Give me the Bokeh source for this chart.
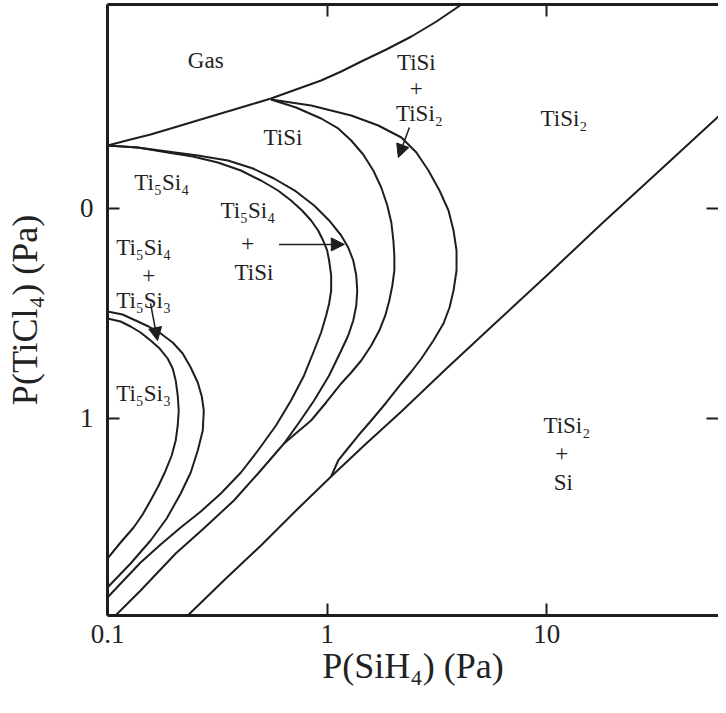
from bokeh.plotting import figure
from bokeh.models import (Range1d, LogAxis, LinearAxis, FixedTicker,
                          Arrow, NormalHead, ColumnDataSource)
from bokeh.core.properties import value
from bokeh.embed import file_html
from bokeh.resources import INLINE

# ---------------- data ----------------
x_ticks = [0.1, 1, 10]
x_tick_labels = ["0.1", "1", "10"]
y_ticks = [0, 1]

# phase boundaries: x = P(SiH4) (Pa), y = P(TiCl4) axis value
gas_x = [0.1, 0.1274, 0.1571, 0.1940, 0.2393, 0.2953, 0.3645, 0.4498, 0.5551, 0.7218,
         0.9389, 1.159, 1.430, 1.860, 2.419, 3.146, 4.092, 4.545]
gas_y = [-0.300, -0.3286, -0.3524, -0.3810, -0.4095, -0.4381, -0.4667, -0.4952, -0.5238,
         -0.5667, -0.6095, -0.6524, -0.7000, -0.7571, -0.8190, -0.8905, -0.9714, -1.005]

t54_in_x = [0.1, 0.1371, 0.1879, 0.2444, 0.3179, 0.4050, 0.4997, 0.5975, 0.6848, 0.7688,
            0.8453, 0.9098, 0.9588, 1.000, 1.021, 1.043, 1.043, 1.021, 0.9895, 0.9389,
            0.8724, 0.7851, 0.6848, 0.5850, 0.4842, 0.4050, 0.3281, 0.2659, 0.2154,
            0.1746, 0.1415, 0.1183, 0.1]
t54_in_y = [-0.300, -0.2905, -0.2667, -0.2476, -0.2190, -0.1810, -0.1333, -0.0857, -0.0381,
            0.0095, 0.0571, 0.1048, 0.1524, 0.2000, 0.2476, 0.3190, 0.3905, 0.4524, 0.5095,
            0.5905, 0.6762, 0.7952, 0.9143, 1.0333, 1.1524, 1.2571, 1.3571, 1.4429, 1.5190,
            1.6000, 1.6857, 1.7714, 1.8524]

t54_out_x = [0.1, 0.1371, 0.1879, 0.2576, 0.3532, 0.4594, 0.5729, 0.7218, 0.8724, 1.021,
             1.159, 1.247, 1.315, 1.357, 1.371, 1.357, 1.315, 1.247, 1.159, 1.021, 0.8724,
             0.7449, 0.6363, 0.4893, 0.3762, 0.2773, 0.2044, 0.1692, 0.1415, 0.1234, 0.1088]
t54_out_y = [-0.300, -0.2905, -0.2714, -0.2524, -0.2286, -0.1905, -0.1429, -0.0810, -0.0143,
             0.0571, 0.1286, 0.1857, 0.2476, 0.3190, 0.3905, 0.4619, 0.5333, 0.6048, 0.6762,
             0.7952, 0.9143, 1.0190, 1.1190, 1.2571, 1.3905, 1.5190, 1.6429, 1.7333, 1.8190,
             1.8810, 1.9381]

tisi_in_x = [0.5551, 0.7218, 0.9389, 1.123, 1.287, 1.460, 1.622, 1.764, 1.879, 1.960, 2.002,
             2.023, 2.023, 1.981, 1.919, 1.840, 1.728, 1.588, 1.430, 1.287, 1.159, 0.9895,
             0.8453, 0.7371, 0.6363]
tisi_in_y = [-0.5190, -0.4810, -0.4286, -0.3810, -0.3238, -0.2571, -0.1810, -0.1000, -0.0143,
             0.0667, 0.1524, 0.2238, 0.2952, 0.3667, 0.4381, 0.5095, 0.5810, 0.6524, 0.7238,
             0.7810, 0.8333, 0.9238, 1.0095, 1.0619, 1.1190]

tisi_out_x = [0.5551, 0.8453, 1.287, 1.710, 2.178, 2.549, 2.892, 3.247, 3.569, 3.762, 3.882,
              3.882, 3.762, 3.607, 3.386, 3.048, 2.687, 2.419, 2.178, 1.860, 1.588, 1.386,
              1.221, 1.123, 1.043]
tisi_out_y = [-0.5190, -0.4905, -0.4429, -0.3952, -0.3381, -0.2667, -0.1810, -0.0857, 0.0095,
              0.1048, 0.2000, 0.2952, 0.3905, 0.4714, 0.5476, 0.6286, 0.7143, 0.7762, 0.8333,
              0.9238, 1.0095, 1.0810, 1.1524, 1.2000, 1.2762]

si_x = [0.2319, 0.3422, 0.4997, 0.7218, 1.043, 1.507, 2.178, 3.495, 5.611, 10.0, 17.83,
        34.58, 67.08, 95.88]
si_y = [1.9381, 1.7667, 1.6048, 1.4381, 1.2762, 1.1190, 0.9667, 0.7619, 0.5619, 0.3190,
        0.0714, -0.2048, -0.4810, -0.6286]

t53_in_x = [0.1, 0.1147, 0.1274, 0.1415, 0.1571, 0.1728, 0.1879, 0.1981, 0.2044, 0.2088,
            0.2110, 0.2088, 0.2044, 0.1960, 0.1840, 0.1710, 0.1571, 0.1445, 0.1315, 0.1147, 0.1]
t53_in_y = [0.5238, 0.5381, 0.5619, 0.5905, 0.6286, 0.6667, 0.7143, 0.7619, 0.8190, 0.8905,
            0.9619, 1.0333, 1.1048, 1.1762, 1.2476, 1.3190, 1.3905, 1.4571, 1.5190, 1.5905,
            1.6667]

t53_out_x = [0.1, 0.1171, 0.1343, 0.1539, 0.1746, 0.1981, 0.2200, 0.2393, 0.2576, 0.2687,
             0.2744, 0.2715, 0.2576, 0.2393, 0.2154, 0.1860, 0.1571, 0.1274, 0.1]
t53_out_y = [0.4905, 0.5048, 0.5333, 0.5619, 0.5952, 0.6381, 0.6905, 0.7571, 0.8286, 0.8952,
             0.9619, 1.0571, 1.1524, 1.2571, 1.3571, 1.4762, 1.5810, 1.6905, 1.8048]

# region labels
region_text = ["Gas", "TiSi", "TiSi", "+", "TiSi₂", "TiSi₂",
               "Ti₅Si₄", "Ti₅Si₄", "+", "TiSi",
               "Ti₅Si₄", "+", "Ti₅Si₃", "Ti₅Si₃",
               "TiSi₂", "+", "Si"]
region_x = [0.280, 0.629, 2.547, 2.547, 2.63, 11.97,
            0.1766, 0.4355, 0.4355, 0.4645,
            0.146, 0.154, 0.146, 0.146,
            12.34, 11.7, 11.9]
region_y = [-0.705, -0.338, -0.695, -0.571, -0.452, -0.429,
            -0.124, 0.010, 0.167, 0.305,
            0.186, 0.319, 0.438, 0.881,
            1.033, 1.167, 1.305]

# pointer arrows
arrow_x0 = [0.604, 2.368, 0.157]
arrow_y0 = [0.171, -0.386, 0.452]
arrow_x1 = [1.197, 2.109, 0.169]
arrow_y1 = [0.171, -0.243, 0.629]

# axis titles
x_title = "P(SiH₄) (Pa)"
y_title = "P(TiCl₄) (Pa)"

# ---------------- figure ----------------
INK = "#1e1e1e"
SERIF = "Liberation Serif"

p = figure(width=718, height=705, x_axis_type="log",
           x_range=Range1d(0.1, 60.5), y_range=Range1d(1.9381, -0.9714),
           output_backend="svg", toolbar_location=None,
           min_border_left=107, min_border_right=0, min_border_top=4,
           min_border_bottom=90)
p.grid.visible = False
p.outline_line_color = None
p.background_fill_color = "white"
p.border_fill_color = "white"


def style_axis(ax, show_labels=True):
    ax.axis_line_color = INK
    ax.axis_line_width = 3
    ax.major_tick_line_color = INK
    ax.major_tick_line_width = 2
    ax.major_tick_in = 12
    ax.major_tick_out = 0
    ax.minor_tick_line_color = None
    ax.major_label_text_font = SERIF
    ax.major_label_text_color = "#222222"
    ax.axis_label_text_font = SERIF
    ax.axis_label_text_font_size = "36px"
    ax.axis_label_text_font_style = "normal"
    ax.axis_label_text_color = "#222222"
    if show_labels:
        ax.major_label_text_font_size = "27px"
    else:
        ax.major_label_text_font_size = "1px"
        ax.major_label_text_alpha = 0
        ax.major_label_standoff = 0


xa = p.xaxis[0]
xa.ticker = FixedTicker(ticks=x_ticks)
xa.major_label_overrides = dict(zip(x_ticks, x_tick_labels))
style_axis(xa)
xa.major_label_standoff = 9
xa.axis_label = x_title
xa.axis_label_standoff = 0

ya = p.yaxis[0]
ya.ticker = FixedTicker(ticks=y_ticks)
style_axis(ya)
ya.major_label_standoff = 14
ya.axis_label = y_title
ya.axis_label_standoff = 32

top = LogAxis(ticker=FixedTicker(ticks=x_ticks))
style_axis(top, show_labels=False)
p.add_layout(top, "above")

right = LinearAxis(ticker=FixedTicker(ticks=y_ticks))
style_axis(right, show_labels=False)
right.axis_line_color = None
p.add_layout(right, "right")

for xs, ys in [(gas_x, gas_y), (t54_in_x, t54_in_y), (t54_out_x, t54_out_y),
               (tisi_in_x, tisi_in_y), (tisi_out_x, tisi_out_y), (si_x, si_y),
               (t53_in_x, t53_in_y), (t53_out_x, t53_out_y)]:
    p.line(xs, ys, line_color=INK, line_width=2, line_join="round")

p.text(x=region_x, y=region_y, text=region_text, text_font=value(SERIF),
       text_font_size="23px", text_align="center", text_baseline="middle",
       text_color="#222222")

arrows = ColumnDataSource(dict(x0=arrow_x0, y0=arrow_y0, x1=arrow_x1, y1=arrow_y1))
p.add_layout(Arrow(end=NormalHead(size=13, fill_color=INK, line_color=INK, line_width=1),
                   x_start="x0", y_start="y0", x_end="x1", y_end="y1",
                   source=arrows, line_color=INK, line_width=1.5))

open("out.html", "w").write(file_html(p, INLINE))
